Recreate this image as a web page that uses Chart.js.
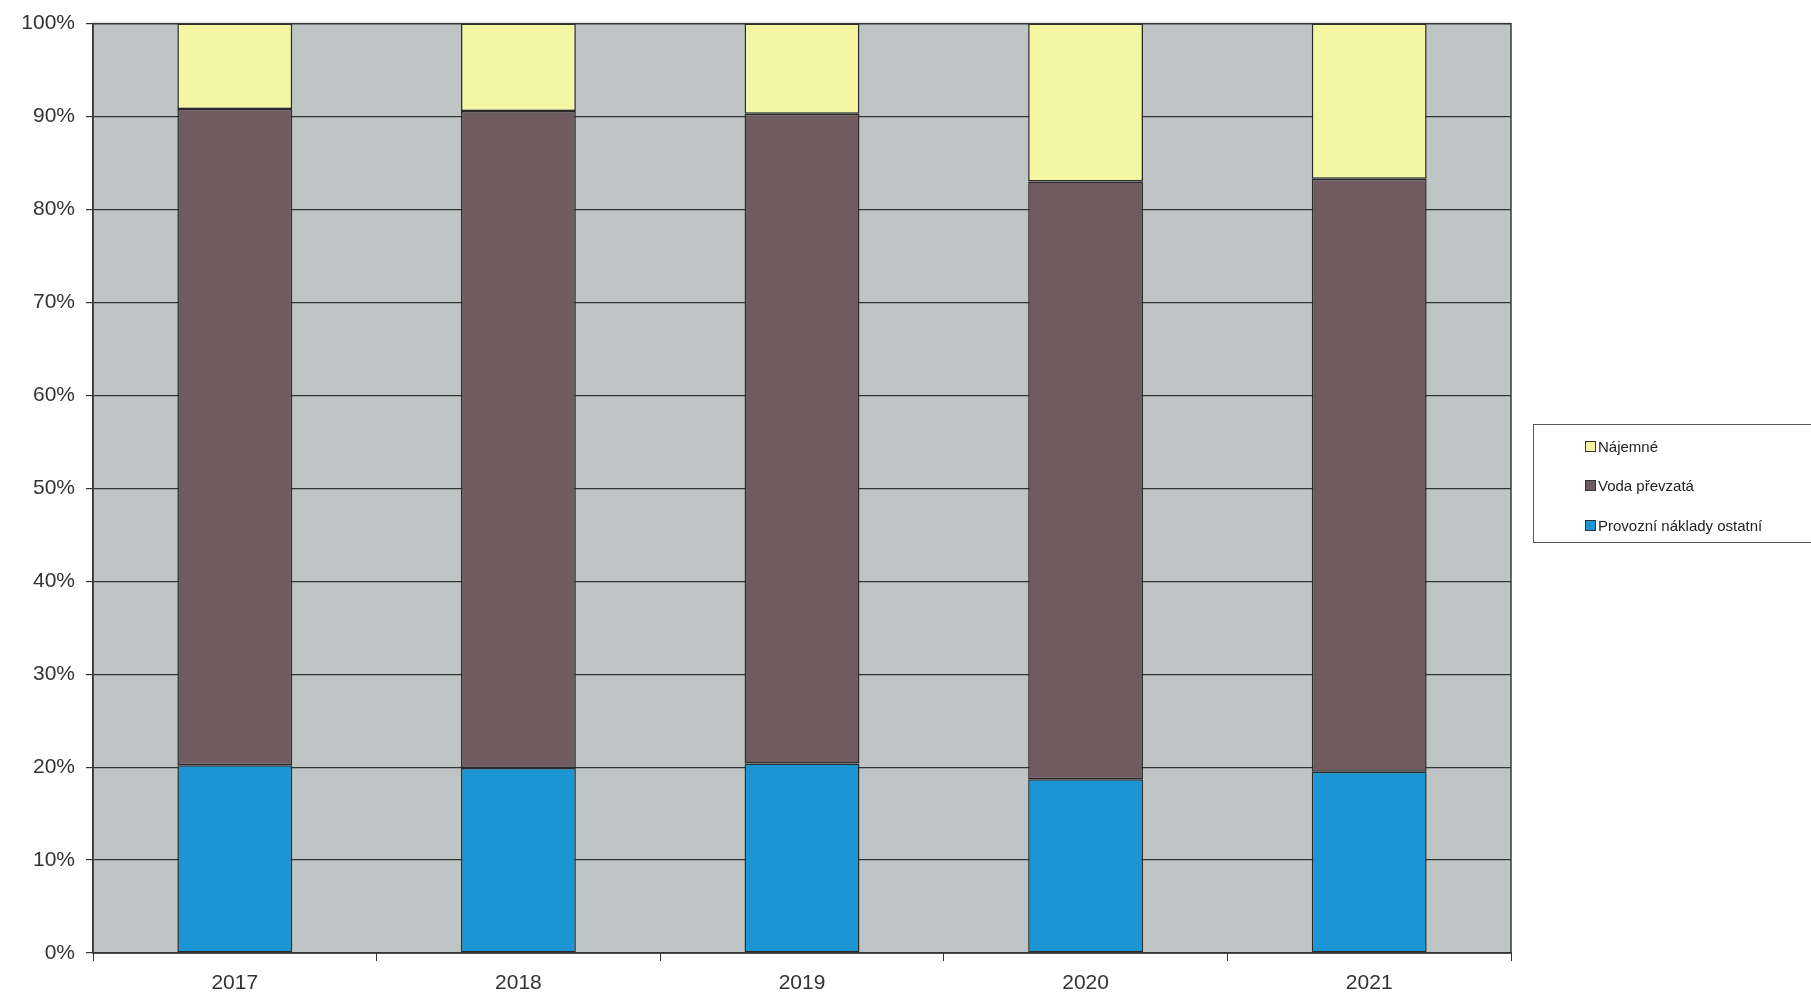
<!DOCTYPE html>
<html>
<head>
<meta charset="utf-8">
<script src="https://cdn.jsdelivr.net/npm/chart.js@4.4.1/dist/chart.umd.min.js"></script>
<style>
  html, body { margin: 0; padding: 0; background: #fff; }
  .wrap { position: relative; width: 1811px; height: 995px; }
  #chart { position: absolute; left: 0; top: 0; }
  .legend {
    position: absolute; left: 1533px; top: 424px; width: 290px; height: 119px;
    border: 1.5px solid #555; box-sizing: border-box;
    font-family: "Liberation Sans", Arial, sans-serif; font-size: 15px; color: #222;
  }
  .legend__item { position: absolute; left: 51px; display: flex; align-items: center; }
  .legend__box { width: 9px; height: 9px; border: 1.5px solid #333; margin-right: 2px; }
</style>
</head>
<body>
<div class="wrap">
  <canvas id="chart" width="1811" height="995"></canvas>
  <div class="legend" id="legend"></div>
</div>
<script>
const years = ["2017", "2018", "2019", "2020", "2021"];
const provozniNaklady = [20.2, 19.9, 20.4, 18.7, 19.5];
const vodaPrevzata = [70.6, 70.7, 69.9, 64.3, 63.8];
const najemne = [9.2, 9.4, 9.7, 17.0, 16.7];
const yTicks = [0, 10, 20, 30, 40, 50, 60, 70, 80, 90, 100];

const plotBg = {
  id: "plotBg",
  beforeDraw(chart) {
    const { ctx, chartArea: a } = chart;
    ctx.save();
    ctx.fillStyle = "#bec5c4";
    ctx.fillRect(a.left, a.top, a.right - a.left, a.bottom - a.top);
    ctx.restore();
  },
  afterDraw(chart) {
    const { ctx, chartArea: a } = chart;
    ctx.save();
    ctx.strokeStyle = "#3a3a3a";
    ctx.lineWidth = 1.5;
    ctx.strokeRect(a.left, a.top, a.right - a.left, a.bottom - a.top);
    ctx.restore();
  },
};

const bar = (label, data, color) => ({
  label,
  data,
  backgroundColor: color,
  borderColor: "#2a2a2a",
  borderWidth: 1.5,
  borderSkipped: false,
  barPercentage: 0.405,
  categoryPercentage: 1,
});

const chart = new Chart(document.getElementById("chart"), {
  type: "bar",
  data: {
    labels: years,
    datasets: [
      bar("Provozní náklady ostatní", provozniNaklady, "#1b95d3"),
      bar("Voda převzatá", vodaPrevzata, "#6f5b60"),
      bar("Nájemné", najemne, "#f4f6a3"),
    ],
  },
  plugins: [plotBg],
  options: {
    responsive: false,
    animation: false,
    layout: { padding: { top: 22, right: 300, left: 0, bottom: 0 } },
    scales: {
      x: {
        stacked: true,
        grid: { drawOnChartArea: false, drawTicks: true, tickLength: 8, color: "#333", offset: true },
        border: { color: "#333", width: 1.5 },
        ticks: { color: "#333", font: { family: "Liberation Sans", size: 21 }, padding: 10 },
        afterFit(scale) { scale.height = 42; },
      },
      y: {
        stacked: true,
        min: 0,
        max: 100,
        afterBuildTicks(scale) { scale.ticks = yTicks.map((v) => ({ value: v })); },
        grid: { color: "#333", lineWidth: 1.2, tickLength: 7 },
        border: { color: "#333", width: 1.5 },
        ticks: {
          color: "#333",
          font: { family: "Liberation Sans", size: 21 },
          padding: 11,
          callback: (v) => v + "%",
        },
        afterFit(scale) { scale.width = 93; },
      },
    },
    plugins: {
      legend: { display: false },
      tooltip: { enabled: false },
    },
  },
});

// legend in reverse order, like the original
const legend = document.getElementById("legend");
const tops = [13, 52, 92];
chart.data.datasets.slice().reverse().forEach((ds, i) => {
  const item = document.createElement("div");
  item.className = "legend__item";
  item.style.top = tops[i] + "px";
  const box = document.createElement("span");
  box.className = "legend__box";
  box.style.background = ds.backgroundColor;
  const text = document.createElement("span");
  text.textContent = ds.label;
  item.append(box, text);
  legend.appendChild(item);
});
</script>
</body>
</html>
